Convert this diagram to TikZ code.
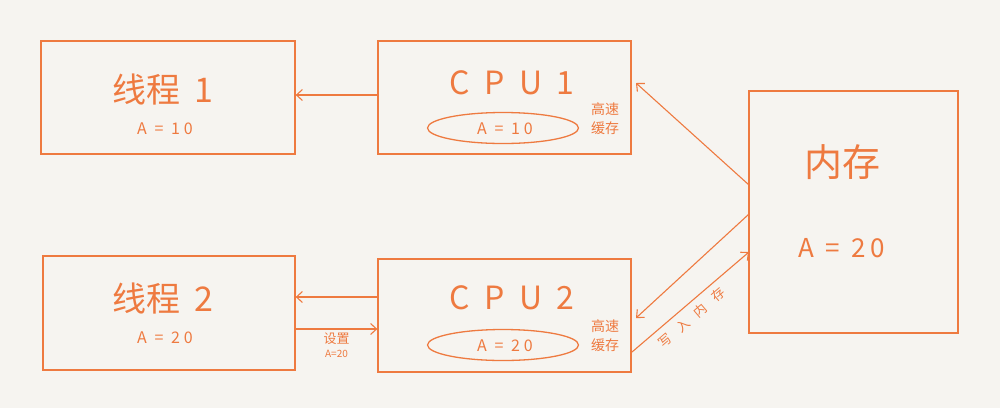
\documentclass[tikz,border=0pt]{standalone}
\usepackage{fontspec}
\setmainfont{Noto Sans CJK SC}
\newfontfamily\cjk{Noto Sans CJK SC}
\usetikzlibrary{shapes.geometric,arrows.meta}
\definecolor{org}{HTML}{EE7A40}
\definecolor{bg}{HTML}{F6F4F0}
\tikzset{
  box/.style={draw=org, line width=1.3pt, rectangle, inner sep=0pt},
  oval/.style={draw=org, line width=1.3pt, ellipse, minimum width=151pt, minimum height=31pt},
  lbl/.style={text=org, font=\cjk},
  conn/.style={draw=org, line width=1.1pt, -{Straight Barb[length=6pt,width=11pt]}},
}
\begin{document}
\begin{tikzpicture}[x=1pt,y=-1pt]
\fill[bg] (0,0) rectangle (1000,408);
\useasboundingbox (0,0) rectangle (1000,408);
% boxes
\node[box, minimum width=254pt, minimum height=113pt] (t1) at (168,97.5) {};
\node[box, minimum width=253pt, minimum height=113pt] (c1) at (504.5,97.5) {};
\node[box, minimum width=252pt, minimum height=114pt] (t2) at (169,313) {};
\node[box, minimum width=253pt, minimum height=113pt] (c2) at (504.5,315.5) {};
\node[box, minimum width=209pt, minimum height=242pt] (m) at (853.5,212) {};
% ovals
\node[oval] (o1) at (503,128) {};
\node[oval] (o2) at (503,345) {};
% texts
\node[lbl, font=\cjk\fontsize{34}{36}\selectfont] (t1a) at (163,90) {线程\hspace{14pt}1};
\node[lbl, font=\cjk\fontsize{16}{18}\selectfont\addfontfeature{LetterSpace=25}] (t1b) at (165,129) {A = 10};
\node[lbl, font=\cjk\fontsize{34}{36}\selectfont] (t2a) at (163,299) {线程\hspace{14pt}2};
\node[lbl, font=\cjk\fontsize{16}{18}\selectfont\addfontfeature{LetterSpace=25}] (t2b) at (165,338) {A = 20};
\node[lbl, font=\cjk\fontsize{32}{34}\selectfont\addfontfeature{LetterSpace=45}] (c1a) at (512,83) {CPU1};
\node[lbl, font=\cjk\fontsize{16}{18}\selectfont\addfontfeature{LetterSpace=25}] (c1b) at (505,129) {A = 10};
\node[lbl, font=\cjk\fontsize{32}{34}\selectfont\addfontfeature{LetterSpace=45}] (c2a) at (512,298) {CPU2};
\node[lbl, font=\cjk\fontsize{16}{18}\selectfont\addfontfeature{LetterSpace=25}] (c2b) at (505,346) {A = 20};
\node[lbl, font=\cjk\fontsize{14}{19}\selectfont, align=center] (k1) at (605,119) {高速\\缓存};
\node[lbl, font=\cjk\fontsize{14}{19}\selectfont, align=center] (k2) at (605,336) {高速\\缓存};
\node[lbl, font=\cjk\fontsize{38}{40}\selectfont] (ma) at (842,162) {内存};
\node[lbl, font=\cjk\fontsize{26}{28}\selectfont\addfontfeature{LetterSpace=20}] (mb) at (842,248) {A = 20};
% anchors for connectors
\coordinate (m1) at (749,185);
\coordinate (m2) at (749,214);
\coordinate (m3) at (749,252);
\coordinate (c1t) at (636,83);
\coordinate (c2t) at (636,318);
\coordinate (c2s) at (632,352);
% connectors
\draw[conn] (c1.west |- 0,95) -- (t1.east |- 0,95);
\draw[conn] (c2.west |- 0,297) -- (t2.east |- 0,297);
\draw[conn] (t2.east |- 0,329) -- node[below, lbl, font=\cjk\fontsize{13}{15}\selectfont, align=center, yshift=0pt] (set) {设置\\[-1pt]{\fontsize{10}{12}\selectfont A=20}} (c2.west |- 0,329);
\draw[conn] (m1) -- (c1t);
\draw[conn] (m2) -- (c2t);
\draw[conn] (c2s) -- node[sloped, below, pos=0.44, lbl, font=\cjk\fontsize{13}{15}\selectfont\addfontfeature{LetterSpace=80}, yshift=-3pt] (w) {写入内存} (m3);
\end{tikzpicture}
\end{document}
